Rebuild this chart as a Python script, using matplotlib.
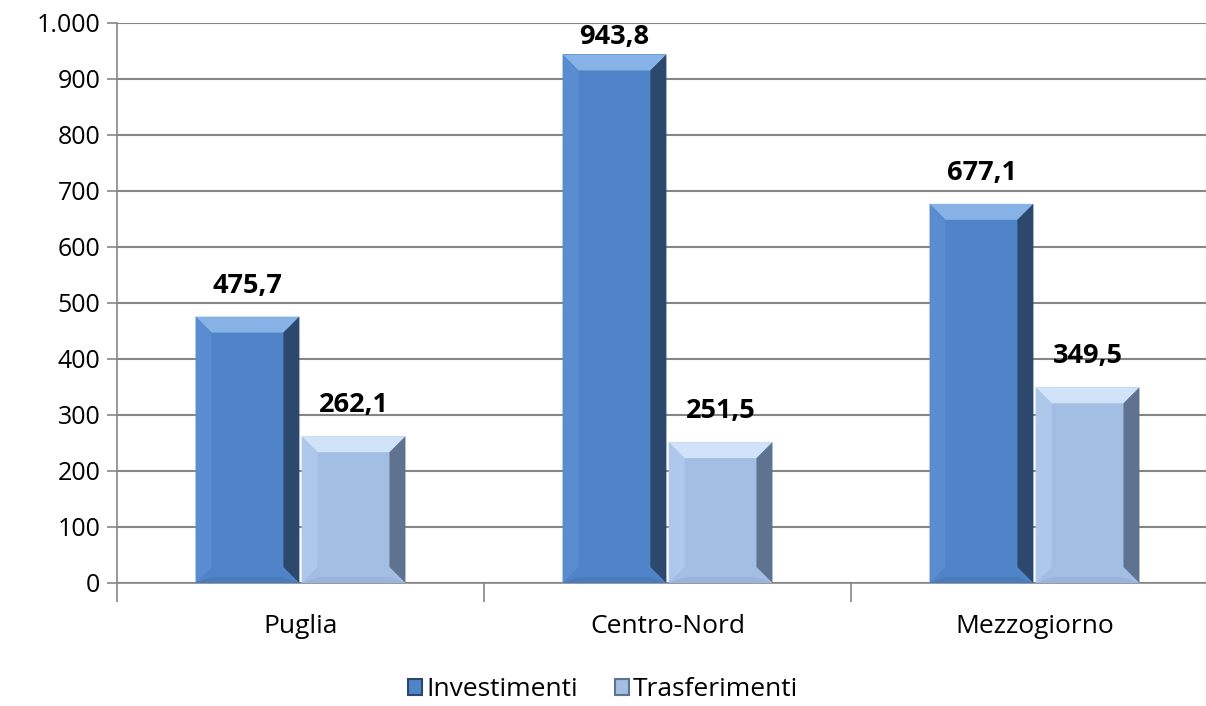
import numpy as np
import matplotlib.pyplot as plt
from matplotlib.patches import Polygon, Rectangle
from matplotlib.ticker import FuncFormatter

plt.rcParams['font.family'] = ['Open Sans', 'DejaVu Sans']

# dati
categorie = ['Puglia', 'Centro-Nord', 'Mezzogiorno']
investimenti = [475.7, 943.8, 677.1]
trasferimenti = [262.1, 251.5, 349.5]
serie = ['Investimenti', 'Trasferimenti']

# colori: faccia, bordo alto, sinistra, destra, basso
stili = {
    'Investimenti': ('#4F84C8', '#86B2E6', '#5A8DCF', '#2C486C', '#4A7CBB'),
    'Trasferimenti': ('#A2BEE3', '#D0E3F8', '#ADC8EA', '#5F7390', '#9AB5DB'),
}

fig = plt.figure(figsize=(12.06, 7.06), dpi=100)
ax = fig.add_axes([117 / 1206, 1 - 583 / 706, 1101 / 1206, 560 / 706])

x = np.arange(len(categorie))
w = 0.283
bars1 = ax.bar(x - w / 2 - 0.003, investimenti, w, color=stili['Investimenti'][0], zorder=3)
bars2 = ax.bar(x + w / 2 + 0.003, trasferimenti, w, color=stili['Trasferimenti'][0], zorder=3)

ax.set_xlim(-0.5, 2.5)
ax.set_ylim(0, 1000)
ax.set_yticks(np.arange(0, 1001, 100))
ax.yaxis.set_major_formatter(FuncFormatter(lambda v, p: f'{int(v):,}'.replace(',', '.')))
ax.set_xticks(x)
ax.set_xticklabels(categorie)
ax.set_xticks([-0.5, 0.5, 1.5], minor=True)
ax.tick_params(axis='x', which='major', length=0, pad=22, labelsize=19)
ax.tick_params(axis='x', which='minor', length=14, color='#868686', width=1.2)
ax.tick_params(axis='y', length=7, color='#868686', width=1.2, labelsize=18, pad=5)

ax.grid(axis='y', color='#868686', linewidth=1.5, zorder=0)
for s in ['top', 'right']:
    ax.spines[s].set_visible(False)
for s in ['left', 'bottom']:
    ax.spines[s].set_color('#868686')
    ax.spines[s].set_linewidth(1.2)

fig.canvas.draw()
b = 16  # spessore della smussatura in pixel


def smussa(rect, colori):
    x0, y0 = ax.transData.transform((rect.get_x(), rect.get_y()))
    x1, y1 = ax.transData.transform((rect.get_x() + rect.get_width(), rect.get_height()))
    bb = min(b, (y1 - y0) / 2)
    pezzi = [
        ([(x0, y1), (x1, y1), (x1 - b, y1 - bb), (x0 + b, y1 - bb)], colori[1]),
        ([(x0, y0), (x0, y1), (x0 + b, y1 - bb), (x0 + b, y0 + bb)], colori[2]),
        ([(x1, y0), (x1, y1), (x1 - b, y1 - bb), (x1 - b, y0 + bb)], colori[3]),
        ([(x0, y0), (x1, y0), (x1 - b, y0 + 6), (x0 + b, y0 + 6)], colori[4]),
    ]
    for pts, c in pezzi:
        fig.patches.append(Polygon(pts, closed=True, facecolor=c, edgecolor='none',
                                   transform=None, zorder=4, figure=fig))


ymax = ax.get_ylim()[1]
for nome, barre, valori in [('Investimenti', bars1, investimenti), ('Trasferimenti', bars2, trasferimenti)]:
    for r, v in zip(barre, valori):
        smussa(r, stili[nome])
        xc = r.get_x() + r.get_width() / 2
        testo = f'{v:.1f}'.replace('.', ',')
        if v > 0.9 * ymax:
            # come Excel: l'etichetta resta dentro l'area del grafico
            ax.annotate(testo, (xc, ymax), xytext=(0, -1), textcoords='offset points',
                        ha='center', va='top', fontsize=19.5, fontweight='bold', zorder=5)
        else:
            ax.annotate(testo, (xc, v), xytext=(0, 13), textcoords='offset points',
                        ha='center', va='bottom', fontsize=19.5, fontweight='bold', zorder=5)

handles = [Rectangle((0, 0), 1, 1, facecolor=stili[n][0], edgecolor=stili[n][3], linewidth=1.5) for n in serie]
fig.legend(handles, serie, loc='center', bbox_to_anchor=(0.5, 1 - 690 / 706), ncol=2, frameon=False,
           fontsize=19, handlelength=0.55, handleheight=0.55, handletextpad=0.15, columnspacing=1.4)

fig.savefig('out.png', dpi=100)
